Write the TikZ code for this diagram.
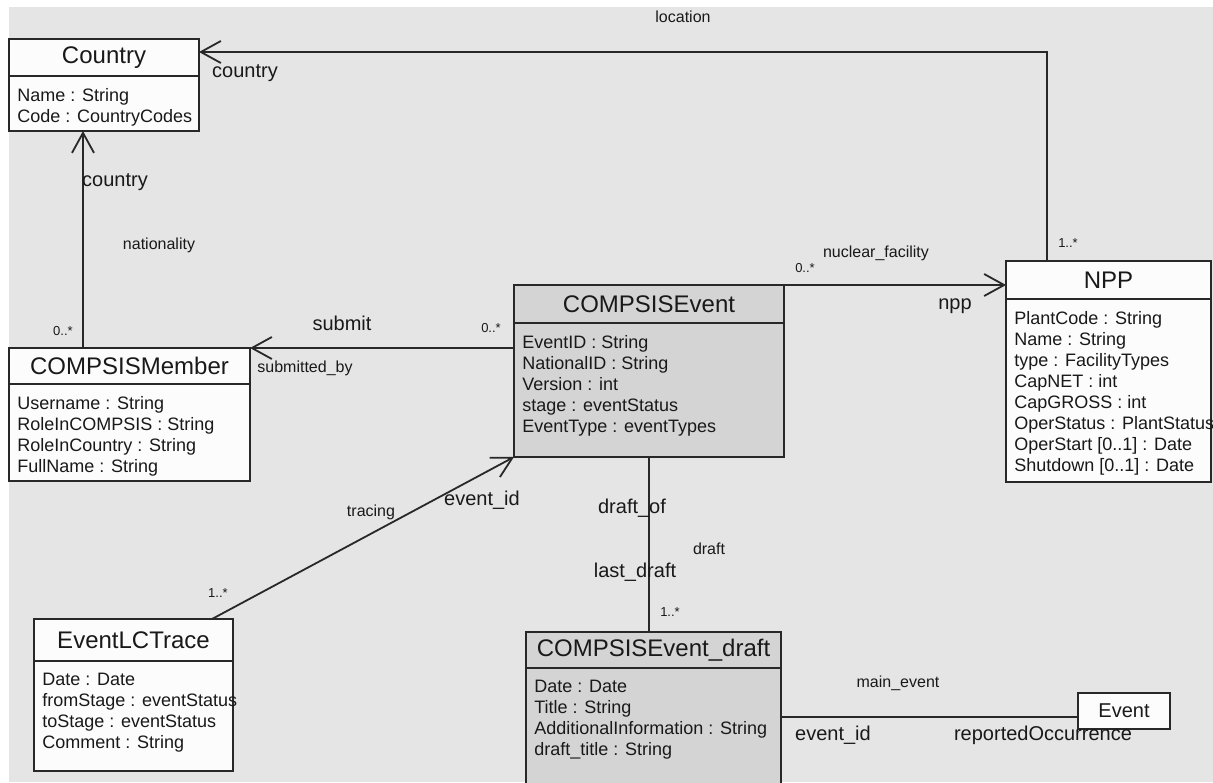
\documentclass[tikz,border=0pt]{standalone}
\usepackage{fontspec}
\setmainfont{Liberation Sans}
\usepackage{xcolor}
\definecolor{canvasgray}{RGB}{229,229,229}
\definecolor{classgray}{RGB}{212,212,212}
\definecolor{classwhite}{RGB}{252,252,252}
\definecolor{linegray}{RGB}{40,40,40}
\definecolor{inkgray}{RGB}{25,25,25}
\usetikzlibrary{arrows.meta, positioning, calc}

\begin{document}
\begin{tikzpicture}[x=0.5pt, y=-0.5pt, text=inkgray,
  classhead/.style={draw=linegray, line width=0.9pt, fill=classwhite, anchor=north west, inner sep=0pt, outer sep=0pt, font=\fontsize{12}{14}\selectfont},
  classbody/.style={draw=linegray, line width=0.9pt, fill=classwhite, anchor=north west, inner sep=0pt, outer sep=0pt},
  attrlist/.style={anchor=north west, align=left, inner xsep=4pt, inner ysep=6pt, font=\fontsize{9}{10.5}\selectfont},
  rolelbl/.style={font=\fontsize{10}{12}\selectfont, inner sep=0pt},
  assoclbl/.style={font=\fontsize{8}{10}\selectfont, inner sep=0pt},
  multlbl/.style={font=\fontsize{6.5}{8}\selectfont, inner sep=0pt},
  assoc/.style={draw=linegray, line width=0.9pt, -{Straight Barb[length=10pt,width=11pt]}},
  link/.style={draw=linegray, line width=0.9pt}]

  % Canvas
  \useasboundingbox (0,0) rectangle (1213,782);
  \fill[canvasgray] (9,7) rectangle (1213,782);

  % Country
  \node[classhead, minimum width=95pt, minimum height=18.5pt] (country) at (9,39) {Country};
  \node[classbody, minimum width=95pt, minimum height=27.5pt] (countrybody) at (country.south west) {};
  \node[attrlist] (countryattr) at (countrybody.north west) {Name : String\\Code : CountryCodes};

  % COMPSISMember
  \node[classhead, minimum width=120.5pt, minimum height=18pt] (member) at (9,348) {COMPSISMember};
  \node[classbody, minimum width=120.5pt, minimum height=48.5pt] (memberbody) at (member.south west) {};
  \node[attrlist] (memberattr) at (memberbody.north west) {Username : String\\RoleInCOMPSIS : String\\RoleInCountry : String\\FullName : String};

  % COMPSISEvent
  \node[classhead, fill=classgray, minimum width=135pt, minimum height=19pt] (event) at (514,285) {COMPSISEvent};
  \node[classbody, fill=classgray, minimum width=135pt, minimum height=67pt] (eventbody) at (event.south west) {};
  \node[attrlist] (eventattr) at (eventbody.north west) {EventID : String\\NationalID : String\\Version : int\\stage : eventStatus\\EventType : eventTypes};

  % NPP
  \node[classhead, minimum width=102.5pt, minimum height=19pt] (npp) at (1006,261) {NPP};
  \node[classbody, minimum width=102.5pt, minimum height=91.5pt] (nppbody) at (npp.south west) {};
  \node[attrlist] (nppattr) at (nppbody.north west) {PlantCode : String\\Name : String\\type : FacilityTypes\\CapNET : int\\CapGROSS : int\\OperStatus : PlantStatus\\OperStart [0..1] : Date\\Shutdown [0..1] : Date};

  % EventLCTrace
  \node[classhead, minimum width=99.5pt, minimum height=21pt] (trace) at (34,619) {EventLCTrace};
  \node[classbody, minimum width=99.5pt, minimum height=55pt] (tracebody) at (trace.south west) {};
  \node[attrlist] (traceattr) at (tracebody.north west) {Date : Date\\fromStage : eventStatus\\toStage : eventStatus\\Comment : String};

  % COMPSISEvent_draft
  \node[classhead, fill=classgray, minimum width=127.5pt, minimum height=18pt] (draft) at (526,632) {COMPSISEvent\_draft};
  \node[classbody, fill=classgray, minimum width=127.5pt, minimum height=62pt] (draftbody) at (draft.south west) {};
  \node[attrlist] (draftattr) at (draftbody.north west) {Date : Date\\Title : String\\AdditionalInformation : String\\draft\_title : String};

  % Event
  \node[classhead, font=\fontsize{10}{12}\selectfont, minimum width=46pt, minimum height=18pt] (occ) at (1078,693) {Event};

  % Associations
  \draw[assoc] ($(npp.north west)+(41,0)$) |- ($(country.north east)+(0,13)$);
  \draw[assoc] ($(member.north west)+(74,0)$) -- ($(countrybody.south west)+(74,0)$);
  \draw[assoc] (member.north east -| eventbody.west) -- (member.north east);
  \draw[assoc] (event.north east) -- (event.north east -| npp.west);
  \draw[assoc] ($(trace.north west)+(178,0)$) -- (eventbody.south west);
  \draw[link] (eventbody.south) -- (eventbody.south |- draft.north);
  \coordinate (mainend) at ($(occ.south west)+(0,-12)$);
  \draw[link] (mainend -| draftbody.east) -- (mainend);

  % Labels
  \node[assoclbl] (lbllocation) at (683,17) {location};
  \node[rolelbl] (lblcountrya) at (245,73) {country};
  \node[rolelbl] (lblcountryb) at (115,182) {country};
  \node[assoclbl] (lblnationality) at (159,245) {nationality};
  \node[multlbl] (multmember) at (63,331) {0..*};
  \node[rolelbl] (lblsubmit) at (342,323) {submit};
  \node[assoclbl] (lblsubmittedby) at (305,368) {submitted\_by};
  \node[multlbl] (multsubmit) at (491,328) {0..*};
  \node[multlbl] (multfacility) at (805,268) {0..*};
  \node[assoclbl] (lblfacility) at (876,253) {nuclear\_facility};
  \node[rolelbl] (lblnpp) at (955,306) {npp};
  \node[multlbl] (multnpp) at (1068,243) {1..*};
  \node[assoclbl] (lbltracing) at (371,512) {tracing};
  \node[rolelbl] (lbleventid) at (482,500) {event\_id};
  \node[multlbl] (multtrace) at (218,593) {1..*};
  \node[rolelbl] (lbldraftof) at (632,508) {draft\_of};
  \node[assoclbl] (lbldraft) at (709,549) {draft};
  \node[rolelbl] (lbllastdraft) at (635,572) {last\_draft};
  \node[multlbl] (multdraft) at (670,612) {1..*};
  \node[assoclbl] (lblmainevent) at (898,683) {main\_event};
  \node[rolelbl] (lbleventidb) at (833,735) {event\_id};
  \node[rolelbl] (lbloccurrence) at (1043,735) {reportedOccurrence};

\end{tikzpicture}
\end{document}
